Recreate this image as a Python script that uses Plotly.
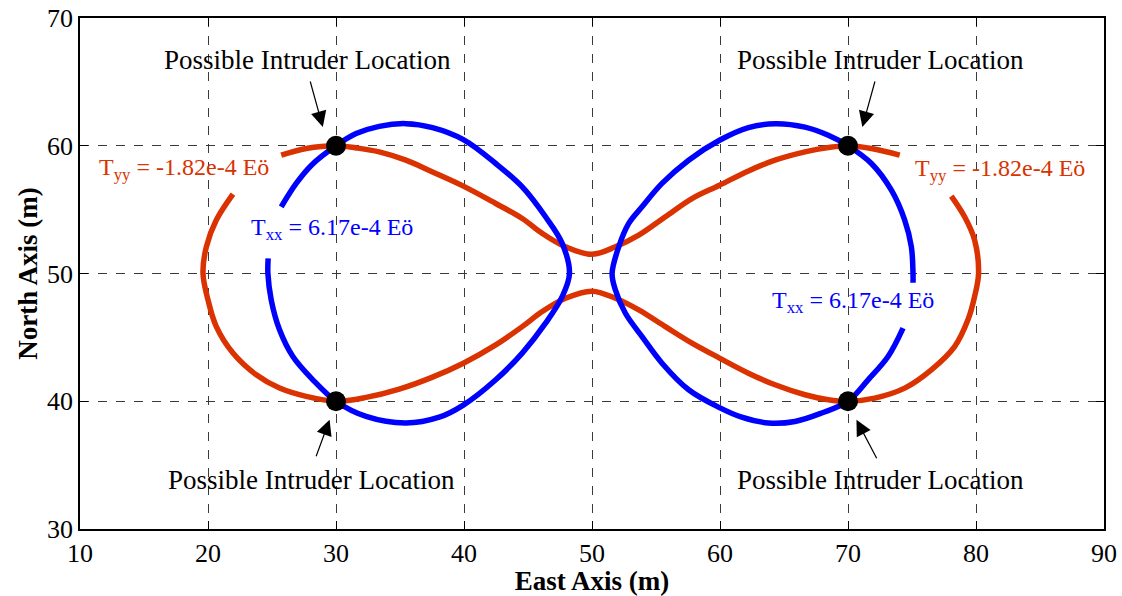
import plotly.graph_objects as go

# Tyy = -1.82e-4 Eö contour, drawn as two pieces (gap left for the labels)
tyy_outer_x = [21.95, 20.65, 19.87, 19.61, 20.0, 20.65, 21.95, 23.77, 25.59, 27.67, 30.0,
               32.35, 34.94, 37.54, 39.95, 42.48, 44.55, 46.11, 47.93, 50.0, 51.83, 53.65,
               55.73, 57.81, 59.96, 62.22, 64.3, 66.64, 68.46, 70.0, 72.09, 74.43, 76.51,
               78.33, 79.37, 79.89, 80.2, 79.89, 79.11, 78.07]
tyy_outer_y = [56.21, 54.18, 52.09, 50.0, 47.93, 45.84, 43.77, 42.07, 41.03, 40.38, 40.0,
               40.3, 40.95, 41.89, 42.98, 44.41, 45.84, 47.02, 48.06, 48.62, 48.06, 47.15,
               45.84, 44.55, 43.38, 42.2, 41.29, 40.51, 40.12, 40.0, 40.25, 41.03, 42.46,
               44.28, 46.37, 48.19, 50.0, 52.62, 54.44, 56.06]
tyy_top_x = [74.04, 71.83, 70.0, 68.46, 66.64, 64.3, 62.22, 59.96, 57.81, 55.73, 53.65,
             51.83, 50.0, 47.93, 46.11, 44.55, 42.48, 39.95, 37.54, 35.46, 33.38, 31.57,
             30.0, 27.67, 25.72]
tyy_top_y = [59.26, 59.78, 60.0, 59.86, 59.52, 58.87, 58.03, 56.91, 55.87, 54.44, 53.0,
             52.09, 51.5, 52.09, 53.14, 54.31, 55.48, 56.84, 57.95, 58.87, 59.52, 59.83,
             60.0, 59.78, 59.26]

# Txx = 6.17e-4 Eö contour, left and right loops
txx_left_x = [25.72, 26.89, 28.1, 30.0, 31.57, 33.38, 35.46, 37.54, 39.95, 42.48, 44.55,
              46.37, 47.67, 48.24, 47.67, 46.37, 44.55, 42.48, 39.95, 38.06, 35.46, 32.35,
              30.0, 28.19, 26.63, 25.59, 24.94, 24.68, 24.7]
txx_left_y = [55.22, 57.05, 58.5, 60.0, 60.95, 61.52, 61.73, 61.42, 60.48, 58.61, 56.78,
              54.44, 52.36, 50.0, 48.19, 46.11, 43.77, 41.68, 39.7, 38.75, 38.3, 38.81,
              40.0, 41.68, 43.5, 45.59, 47.93, 50.0, 51.19]
txx_right_x = [75.08, 75.08, 74.95, 74.43, 73.39, 71.83, 70.0, 68.46, 66.64, 64.3, 62.22,
               59.96, 57.55, 55.47, 53.91, 52.87, 52.09, 51.57, 51.83, 52.61, 53.91, 55.47,
               57.55, 59.96, 61.7, 63.78, 65.86, 67.94, 70.0, 71.57, 73.13, 74.3]
txx_right_y = [49.28, 50.0, 52.09, 54.18, 56.52, 58.61, 60.0, 60.82, 61.46, 61.73, 61.42,
               60.43, 58.87, 57.05, 55.22, 53.92, 52.09, 50.0, 48.71, 46.89, 45.06, 42.98,
               40.9, 39.5, 38.75, 38.3, 38.42, 39.08, 40.0, 41.68, 43.5, 45.72]

# Possible intruder locations (contour intersections)
intruder_x = [30, 70, 30, 70]
intruder_y = [60, 60, 40, 40]

RED = "rgb(218,50,0)"
BLUE = "rgb(0,0,255)"
SERIF = "Liberation Serif"

fig = go.Figure()
line_opts = dict(mode="lines", line_shape="spline", hoverinfo="skip", showlegend=False)
fig.add_trace(go.Scatter(x=tyy_outer_x, y=tyy_outer_y, line=dict(color=RED, width=5.5), **line_opts))
fig.add_trace(go.Scatter(x=tyy_top_x, y=tyy_top_y, line=dict(color=RED, width=5.5), **line_opts))
fig.add_trace(go.Scatter(x=txx_left_x, y=txx_left_y, line=dict(color=BLUE, width=5.5), **line_opts))
fig.add_trace(go.Scatter(x=txx_right_x, y=txx_right_y, line=dict(color=BLUE, width=5.5), **line_opts))
fig.add_trace(go.Scatter(x=intruder_x, y=intruder_y, mode="markers",
                         marker=dict(color="black", size=20), showlegend=False))

label_font = dict(family=SERIF, size=27, color="black")
# text labels for the intruder locations
for tx, ty in [(27.8, 66.7), (72.5, 66.7), (28.1, 33.8), (72.5, 33.8)]:
    fig.add_annotation(x=tx, y=ty, text="Possible Intruder Location", showarrow=False,
                       font=label_font, xanchor="center", yanchor="middle")

# arrows pointing at the markers: (tip x, tip y, tail dx px, tail dy px)
for ax_x, ax_y, dx, dy in [(28.97, 61.47, -13, -47), (71.12, 61.47, 13, -47),
                           (29.5, 38.55, -14, 38), (70.66, 38.55, 21, 40)]:
    fig.add_annotation(x=ax_x, y=ax_y, ax=dx, ay=dy, text="", showarrow=True,
                       arrowhead=2, arrowsize=2.6, arrowwidth=1.2, arrowcolor="black",
                       standoff=0)

# contour value labels
for tx, ty, txt, col in [(18.1, 58.2, "T<sub>yy</sub> = -1.82e-4 Eö", RED),
                         (81.9, 58.1, "T<sub>yy</sub> = -1.82e-4 Eö", RED),
                         (29.7, 53.5, "T<sub>xx</sub> = 6.17e-4 Eö", BLUE),
                         (70.4, 47.8, "T<sub>xx</sub> = 6.17e-4 Eö", BLUE)]:
    fig.add_annotation(x=tx, y=ty, text=txt, showarrow=False,
                       font=dict(family=SERIF, size=24, color=col),
                       xanchor="center", yanchor="middle")

axis_common = dict(showline=True, mirror="allticks", linecolor="black", linewidth=1.5,
                   ticks="inside", ticklen=8, tickcolor="black", tickwidth=1,
                   showgrid=True, gridcolor="#3a3a3a", griddash="dash", gridwidth=1,
                   zeroline=False, automargin=False,
                   tickfont=dict(family=SERIF, size=26, color="black"))

fig.update_layout(
    width=1122, height=596,
    margin=dict(l=80, r=18, t=18, b=67, pad=0),
    paper_bgcolor="white", plot_bgcolor="white",
    xaxis=dict(range=[10, 90], dtick=10,
               title=dict(text="<b>East Axis (m)</b>", standoff=4,
                          font=dict(family=SERIF, size=27, color="black")),
               **axis_common),
    yaxis=dict(range=[30, 70], dtick=10,
               title=dict(text="<b>North Axis (m)</b>", standoff=2,
                          font=dict(family=SERIF, size=27, color="black")),
               **axis_common),
)

fig.write_html("out.html")
